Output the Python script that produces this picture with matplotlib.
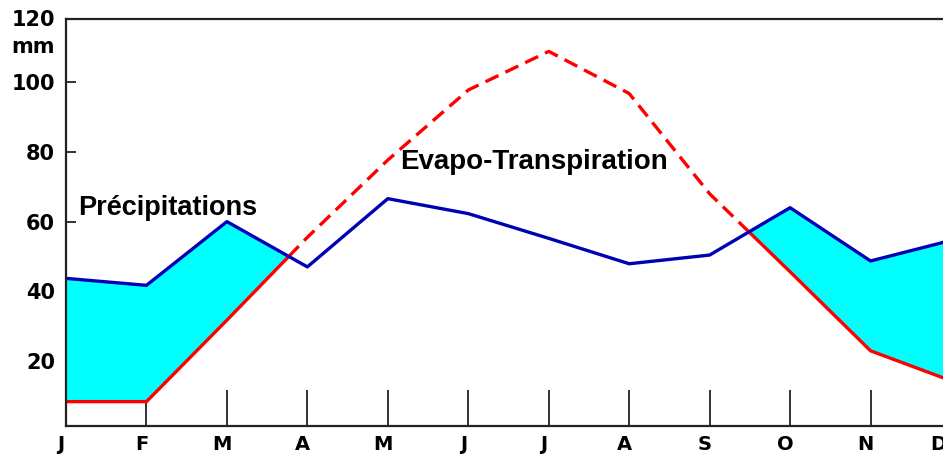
import numpy as np
import matplotlib
matplotlib.use("Agg")
import matplotlib.pyplot as plt
from matplotlib.transforms import ScaledTranslation, blended_transform_factory

plt.rcParams['font.family'] = ['Liberation Sans', 'DejaVu Sans']

months = ['J', 'F', 'M', 'A', 'M', 'J', 'J', 'A', 'S', 'O', 'N', 'D']
precip = [43.7, 41.7, 60.0, 47.0, 66.6, 62.3, 55.2, 47.9, 50.4, 64.0, 48.7, 54.6]
etp = [8.3, 8.3, 31.7, 55.5, 77.7, 97.8, 108.9, 96.8, 68.0, 45.6, 22.9, 14.3]
yticks = [20, 40, 60, 80, 100]
ytick_labels = ['20', '40', '60', '80', '100']
ytop_label = '120'
unit_label = 'mm'

BLUE = '#0000B4'
RED = '#FF0000'
CYAN = '#00FFFF'
AXC = '#222222'
NUMFONT = 'DejaVu Sans'

x = np.arange(len(months), dtype=float)
P = np.array(precip)
E = np.array(etp)

# insert crossing points so solid/dashed switch exactly at intersections
xs, ps, es = [x[0]], [P[0]], [E[0]]
for i in range(len(x) - 1):
    d0 = P[i] - E[i]
    d1 = P[i + 1] - E[i + 1]
    if d0 * d1 < 0:
        t = d0 / (d0 - d1)
        xs.append(x[i] + t * (x[i + 1] - x[i]))
        ps.append(P[i] + t * (P[i + 1] - P[i]))
        es.append(E[i] + t * (E[i + 1] - E[i]))
    xs.append(x[i + 1]); ps.append(P[i + 1]); es.append(E[i + 1])
xs = np.array(xs); ps = np.array(ps); es = np.array(es)
surplus = ps >= es - 1e-9
deficit = es >= ps - 1e-9

fig = plt.figure(figsize=(9.43, 4.55), dpi=100)
ax = fig.add_axes([66 / 943, 1 - 426 / 455, (951 - 66) / 943, (426 - 19) / 455])

ax.fill_between(xs, es, ps, where=surplus, interpolate=True, color=CYAN,
                linewidth=0, zorder=3)

e_solid = np.where(surplus, es, np.nan)
e_dash = np.where(deficit, es, np.nan)
ax.plot(xs, e_solid, color=RED, lw=2.4, zorder=4, solid_capstyle='butt')
ax.plot(xs, e_dash, color=RED, lw=2.4, zorder=4, dashes=(4.3, 2.3))
ax.plot(x, P, color=BLUE, lw=2.4, zorder=5)

ax.set_xlim(0, 11)
ax.set_ylim(1.3, 118.2)

ax.set_xticks(x)
ax.set_xticklabels(months, fontsize=14, fontweight='bold', family=NUMFONT)
ax.tick_params(axis='x', direction='in', length=26, width=1.3, pad=6.5,
               color=AXC)
for i, lab in enumerate(ax.get_xticklabels()):
    dx = -13 if i == len(months) - 1 else -5
    lab.set_transform(lab.get_transform() + ScaledTranslation(dx / 100, 0, fig.dpi_scale_trans))

ax.set_yticks(yticks)
ax.set_yticklabels(ytick_labels, fontsize=15, fontweight='bold', family=NUMFONT)
ax.tick_params(axis='y', direction='in', length=7.5, width=1.3, pad=8,
               color=AXC)

for s in ['left', 'bottom', 'top']:
    ax.spines[s].set_linewidth(1.6)
    ax.spines[s].set_color(AXC)
    ax.spines[s].set_zorder(6)
ax.spines['right'].set_visible(False)

ax.text(55 / 943, 1 - 20 / 455, ytop_label, transform=fig.transFigure,
        fontsize=15, fontweight='bold', family=NUMFONT, ha='right', va='center')
fig.text(33 / 943, 1 - 47 / 455, unit_label, fontsize=15, fontweight='bold',
         family=NUMFONT, ha='center', va='center')

ax.text(0.15, 61.9, 'Précipitations', fontsize=19.5, fontweight='bold',
        ha='left', va='baseline', zorder=7)
ax.text(4.15, 75.1, 'Evapo-Transpiration', fontsize=20, fontweight='bold',
        ha='left', va='baseline', zorder=7)

fig.savefig('out.png', dpi=100)
